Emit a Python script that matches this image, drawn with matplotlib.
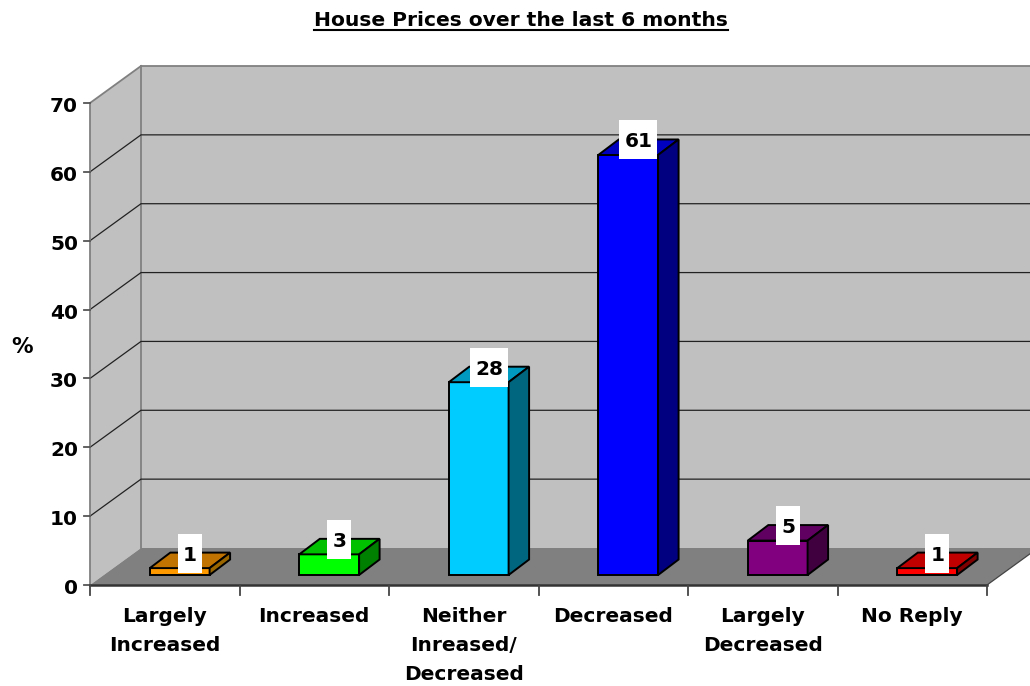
import matplotlib
matplotlib.use('Agg')
import matplotlib.pyplot as plt
from matplotlib.patches import Polygon, Rectangle

categories = ['Largely\nIncreased', 'Increased', 'Neither\nInreased/\nDecreased',
              'Decreased', 'Largely\nDecreased', 'No Reply']
values = [1, 3, 28, 61, 5, 1]
front_colors = ['#ff9900', '#00ff00', '#00ccff', '#0000ff', '#800080', '#ff0000']
top_colors = ['#c07300', '#00c000', '#0099c0', '#0000c0', '#600060', '#c00000']
side_colors = ['#996600', '#008000', '#006680', '#000080', '#400040', '#800000']
yticks = [0, 10, 20, 30, 40, 50, 60, 70]

W, H = 1030, 686
fig = plt.figure(figsize=(W / 100, H / 100), dpi=100)
ax = fig.add_axes([90 / W, (H - 585) / H, 897 / W, 482 / H])
ax.set_xlim(0, 6)
ax.set_ylim(0, 70)
ax.axis('off')

# pixels per data unit, the 3d depth is worked out in pixels
sx = 897 / 6
sy = 482 / 70
wall_dx, wall_dy = 51 / sx, 37 / sy
bar_dx, bar_dy = 20.5 / sx, 15.5 / sy
x_end = 6.3

def poly(pts, fc, ec='black', lw=1.4, z=2):
    ax.add_patch(Polygon(pts, closed=True, fc=fc, ec=ec, lw=lw, zorder=z, clip_on=False,
                         joinstyle='miter'))

# walls and floor
poly([(wall_dx, wall_dy), (x_end, wall_dy), (x_end, 70 + wall_dy), (wall_dx, 70 + wall_dy)],
     '#c0c0c0', ec='none', z=1)
poly([(0, 0), (wall_dx, wall_dy), (wall_dx, 70 + wall_dy), (0, 70)], '#c0c0c0', ec='none', z=1)
poly([(0, 0), (6, 0), (6 + wall_dx, wall_dy), (wall_dx, wall_dy)], '#808080', ec='none', z=1)
ax.plot([wall_dx, x_end], [70 + wall_dy] * 2, color='#808080', lw=1.3, clip_on=False, zorder=1.5)
ax.plot([wall_dx, wall_dx], [wall_dy, 70 + wall_dy], color='#808080', lw=1.3, clip_on=False, zorder=1.5)

# grid lines along side wall and back wall
for v in yticks[1:-1]:
    ax.plot([0, wall_dx, x_end], [v, v + wall_dy, v + wall_dy], color='#222222', lw=0.9,
            clip_on=False, zorder=1.6)
ax.plot([0, wall_dx], [70, 70 + wall_dy], color='#808080', lw=1.3, clip_on=False, zorder=1.6)
ax.plot([6, 6 + wall_dx], [0, wall_dy], color='#444444', lw=0.9, clip_on=False, zorder=1.6)

# axes lines and ticks
ax.plot([0, 6], [0, 0], color='#333333', lw=1.8, clip_on=False, zorder=3)
ax.plot([0, 0], [0, 70], color='#808080', lw=1.3, clip_on=False, zorder=3)
for v in yticks:
    ax.plot([-6 / sx, 0], [v, v], color='#555555', lw=1.3, clip_on=False, zorder=3)
    ax.text(-12 / sx, v - 3.5 / sy, str(v), ha='right', va='center', fontsize=14.5, fontweight='bold',
            color='black')
for i in range(7):
    ax.plot([i, i], [0, -10 / sy], color='#444444', lw=1.3, clip_on=False, zorder=3)

for i, lab in enumerate(categories):
    ax.text(i + 0.5, -22 / sy, lab, ha='center', va='top', fontsize=14.5, fontweight='bold',
            color='black', linespacing=1.66)

# bars, standing a little in from the front edge of the floor
bar_w = 0.4
y0 = 10 / sy
labels = []
for i, v in enumerate(values):
    x0 = i + 0.4
    x1 = x0 + bar_w
    top_y = y0 + v
    poly([(x0, y0), (x1, y0), (x1, top_y), (x0, top_y)], front_colors[i], z=4)
    poly([(x0, top_y), (x1, top_y), (x1 + bar_dx, top_y + bar_dy), (x0 + bar_dx, top_y + bar_dy)],
         top_colors[i], z=4)
    poly([(x1, y0), (x1 + bar_dx, y0 + bar_dy), (x1 + bar_dx, top_y + bar_dy), (x1, top_y)],
         side_colors[i], z=4)
    labels.append(ax.text(x0 + bar_w / 2 + bar_dx / 2, top_y + 15 / sy, str(v), ha='center', va='center',
                          fontsize=14.5, fontweight='bold', color='black', zorder=6))

# white label boxes are taller than the digits, so drawn apart from the text
fig.canvas.draw()
for t in labels:
    bb = t.get_window_extent()
    cx, cy = t.get_position()
    w = (bb.width + 10) / sx
    h = 39 / sy
    ax.add_patch(Rectangle((cx - w / 2, cy - h / 2), w, h, fc='white', ec='none', zorder=5, clip_on=False))
    t.set_y(cy - 2 / sy)

ax.text(-68 / sx, 34.5, '%', ha='center', va='center', fontsize=15.5, fontweight='bold', color='black')

# title, underlined by hand since matplotlib has no underline
title = fig.text(521 / W, 1 - 20 / H, 'House Prices over the last 6 months', ha='center', va='center',
                 fontsize=14.6, fontweight='bold', color='black')
fig.canvas.draw()
bb = title.get_window_extent()
fig.add_artist(plt.Line2D([bb.x0 / W, bb.x1 / W], [1 - 30 / H] * 2, color='black', lw=1.5))

fig.savefig('out.png', dpi=100)
